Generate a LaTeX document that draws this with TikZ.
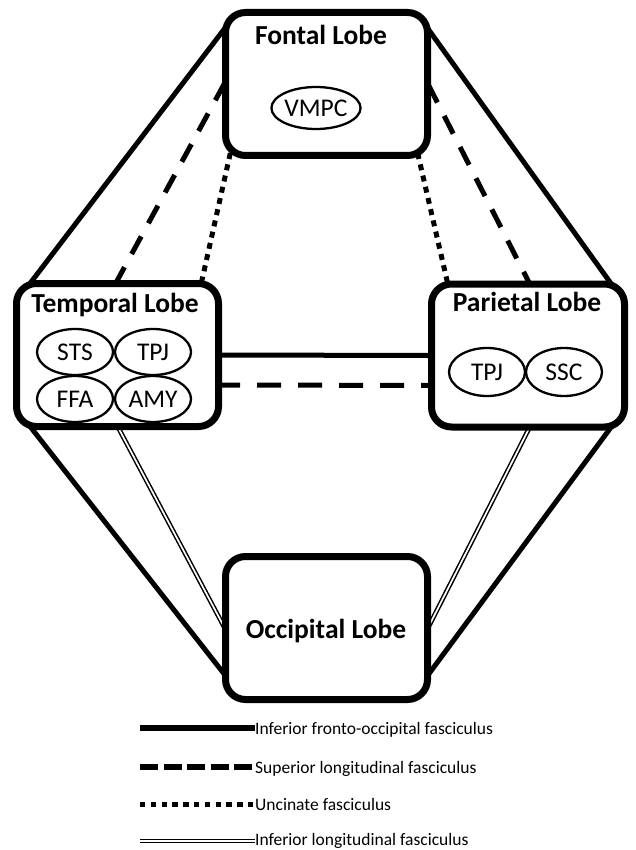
\documentclass[tikz,border=0pt]{standalone}
\usepackage{fontspec}
\setmainfont{Carlito}
\usetikzlibrary{calc,shapes.geometric,backgrounds}
\begin{document}
\begin{tikzpicture}[x=1pt,y=-1pt,
  lobe/.style={draw, line width=7pt, rounded corners=20pt, fill=white, minimum width=202pt, minimum height=143pt, inner sep=0pt},
  lobetitle/.style={font=\fontsize{27.5}{27.5}\selectfont\bfseries, inner sep=0pt, anchor=base},
  region/.style={draw, ellipse, line width=2.3pt, fill=white, minimum width=76pt, minimum height=46pt, inner sep=0pt, font=\fontsize{25.5}{25.5}\selectfont},
  conn/.style={shorten <=-6pt, shorten >=-6pt},
  ifof/.style={line width=5pt},
  slf/.style={line width=5pt, dash pattern=on 20pt off 15pt},
  unc/.style={line width=5pt, dash pattern=on 6pt off 5.5pt},
  ilf/.style={double, line width=1.5pt, double distance=1.7pt},
  legtext/.style={font=\fontsize{17.5}{17.5}\selectfont, inner sep=0pt, anchor=base west}
]
\useasboundingbox (0,0) rectangle (635,850);

% lobes
\node[lobe] (F) at (326.5,84) {};
\node[lobe] (T) at (117.5,355) {};
\node[lobe, minimum width=193pt] (P) at (528,355.5) {};
\node[lobe] (O) at (326.5,628) {};

% titles
\node[lobetitle] (Ft) at (321,45) {Fontal Lobe};
\node[lobetitle] (Tt) at (115,312) {Temporal Lobe};
\node[lobetitle] (Pt) at (527,311) {Parietal Lobe};
\node[lobetitle] (Ot) at (326,638) {Occipital Lobe};

% regions
\node[region, minimum height=42pt] (vmpc) at (316,108) {VMPC};
\node[region] (sts) at (75,352) {STS};
\node[region] (tpj1) at (153,352) {TPJ};
\node[region] (ffa) at (75,399) {FFA};
\node[region] (amy) at (153,399) {AMY};
\node[region, minimum height=48pt] (tpj2) at (487,372) {TPJ};
\node[region, minimum height=48pt] (ssc) at (564,372) {SSC};

% connectors
\begin{pgfonlayer}{background}
\draw[conn, ifof] ($(F.north west)+(0,23)$) -- ($(T.north west)+(12,10)$);
\draw[conn, ifof] ($(T.south west)+(12,-10)$) -- ($(O.south west)+(3,-28)$);
\draw[conn, ifof] ($(F.north east)+(0,24)$) -- ($(P.north east)+(-12,10)$);
\draw[conn, ifof] ($(P.south east)+(-12,-10)$) -- ($(O.south east)+(-3,-28)$);
\draw[conn, ifof] (T.east) -- (P.west);
\draw[conn, slf] ($(F.north west)+(0,79)$) -- (T.north);
\draw[conn, slf] ($(F.north east)+(0,81)$) -- (P.north);
\draw[conn, slf, dash pattern=on 24pt off 17pt] ($(T.east)+(0,30)$) -- ($(P.west)+(0,30)$);
\draw[conn, unc] ($(F.south west)+(7,0)$) -- ($(T.north east)+(-20,0)$);
\draw[conn, unc] ($(F.south east)+(-12,0)$) -- ($(P.north west)+(19,0)$);
\draw[conn, ilf] ($(T.south)+(2,0)$) -- ($(O.west)+(0,-5)$);
\draw[conn, ilf] (P.south) -- ($(O.east)+(0,-6)$);
\end{pgfonlayer}

% legend
\coordinate (l1) at (140,728);
\coordinate (l2) at (140,767);
\coordinate (l3) at (140,804);
\coordinate (l4) at (140,841);
\node[legtext] (k1) at (255,734) {Inferior fronto-occipital fasciculus};
\node[legtext] (k2) at (255,773) {Superior longitudinal fasciculus};
\node[legtext] (k3) at (255,810) {Uncinate fasciculus};
\node[legtext] (k4) at (255,845) {Inferior longitudinal fasciculus};
\draw[ifof, line width=6pt] (l1) -- (l1 -| k1.west);
\draw[line width=5.5pt, dash pattern=on 18pt off 5.5pt] (l2) -- (l2 -| k2.west);
\draw[line width=5pt, dash pattern=on 5.4pt off 5.4pt] (l3) -- (l3 -| k3.west);
\draw[ilf, line width=1.5pt, double distance=1.8pt] (l4) -- (l4 -| k4.west);
\end{tikzpicture}
\end{document}
